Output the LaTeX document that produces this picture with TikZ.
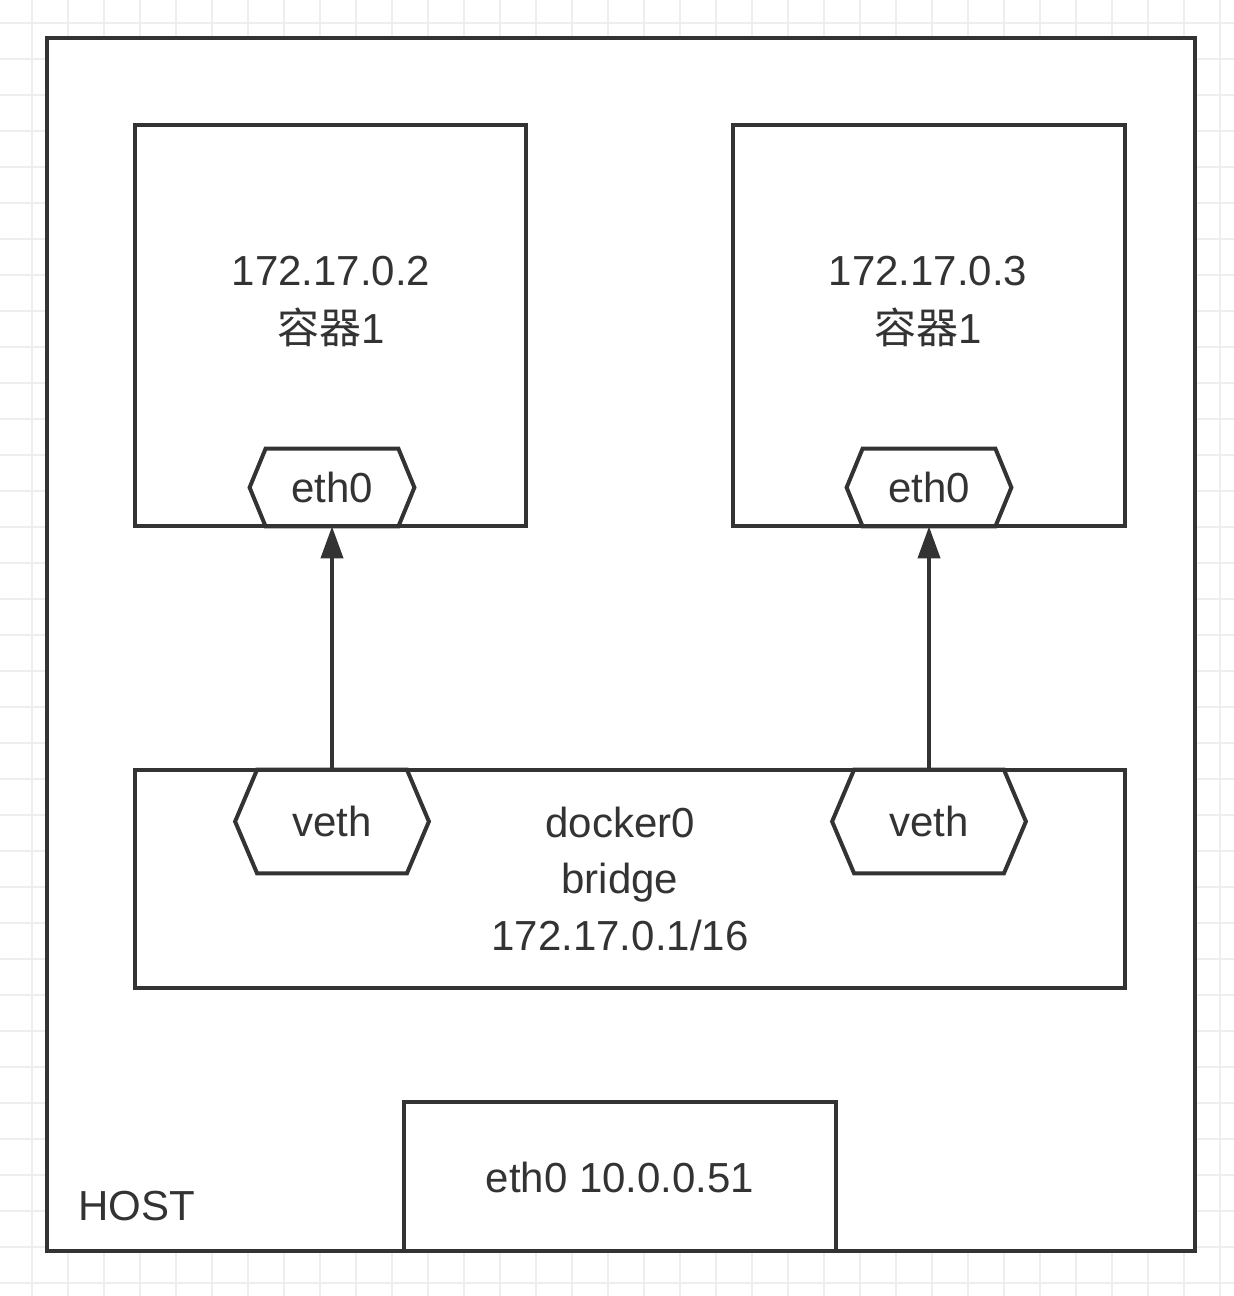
\documentclass[tikz,border=0pt]{standalone}
\usepackage{fontspec}
\setmainfont{Liberation Sans}
\newfontfamily\cjk{Noto Sans CJK SC}
\usetikzlibrary{arrows.meta}
\definecolor{ink}{HTML}{333333}
\definecolor{gridc}{HTML}{EEEEEE}
\newcommand\hexoutline[2]{%
  \draw[hexline] ([xshift=#2]#1.north west) -- ([xshift=-#2]#1.north east) -- (#1.east)
    -- ([xshift=-#2]#1.south east) -- ([xshift=#2]#1.south west) -- (#1.west) -- cycle;}
\begin{document}
\begin{tikzpicture}[x=0.5pt,y=-0.5pt,
  every node/.style={text=ink, font=\fontsize{21}{25}\selectfont},
  box/.style={draw=ink, line width=2pt, fill=white, inner sep=0pt, line join=miter},
  hexnode/.style={inner sep=0pt},
  hexline/.style={draw=ink, line width=2pt, line join=miter},
  txt/.style={inner sep=0pt, anchor=base},
  arr/.style={draw=ink, line width=2pt, -{Triangle[length=16pt,width=11pt]}}]
\useasboundingbox (0,0) rectangle (1234,1296);
\fill[white] (0,0) rectangle (1234,1296);
\foreach \x in {32,68,...,1232} \draw[gridc, line width=0.8pt] (\x,0) -- (\x,1296);
\foreach \y in {23,59,...,1295} \draw[gridc, line width=0.8pt] (0,\y) -- (1234,\y);

\node[box, minimum width=574pt, minimum height=606.5pt] (host) at (621,644.5) {};
\node[box, minimum width=195.5pt, minimum height=200.5pt] (c1) at (330.5,325.5) {};
\node[box, minimum width=196pt, minimum height=200.5pt] (c2) at (929,325.5) {};
\node[box, minimum width=495pt, minimum height=109pt] (dock) at (630,879) {};
\node[box, minimum width=216pt, minimum height=74.5pt] (heth) at (620,1176.5) {};

\node[txt] (c1ip) at (331,285) {172.17.0.2};
\node[txt] (c1nm) at (331,343) {{\cjk 容器}1};
\node[txt] (c2ip) at (928,285) {172.17.0.3};
\node[txt] (c2nm) at (928,343) {{\cjk 容器}1};

\node[hexnode, minimum width=82pt, minimum height=38.5pt] (e1) at (332,487.5) {eth0};
\node[hexnode, minimum width=82pt, minimum height=38.5pt] (e2) at (929,487.5) {eth0};
\hexoutline{e1}{8pt}
\hexoutline{e2}{8pt}

\node[hexnode, minimum width=96.5pt, minimum height=51.5pt] (v1) at (332,821.5) {veth};
\node[hexnode, minimum width=96.5pt, minimum height=51.5pt] (v2) at (929,821.5) {veth};
\hexoutline{v1}{11pt}
\hexoutline{v2}{11pt}

\node[txt] (dk1) at (620,837) {docker0};
\node[txt] (dk2) at (620,893) {bridge};
\node[txt] (dk3) at (620,950) {172.17.0.1/16};

\node[txt] (hethtxt) at (620,1192) {eth0 10.0.0.51};
\node[txt, anchor=base west] (hostlbl) at (78,1220) {HOST};

\draw[arr] (v1.north) -- (e1.south);
\draw[arr] (v2.north) -- (e2.south);
\end{tikzpicture}
\end{document}
